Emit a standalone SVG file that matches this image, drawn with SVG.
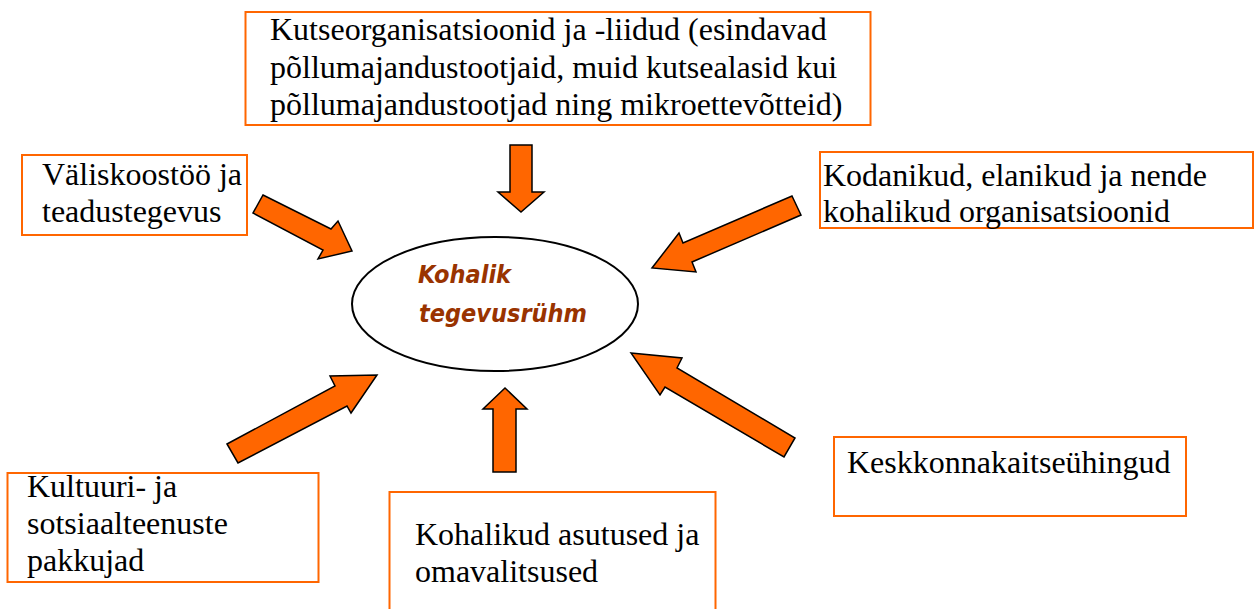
<svg xmlns="http://www.w3.org/2000/svg" width="1255" height="609" viewBox="0 0 1255 609">
<style>
.box{fill:#fff;stroke:#FF6600;stroke-width:2}
.t{font-family:"Liberation Serif","Times New Roman",serif;font-size:32px;fill:#000}
.arr{fill:#FF6600;stroke:#000;stroke-width:1.5;stroke-linejoin:miter}
.ct{font-family:"DejaVu Sans Condensed","DejaVu Sans",sans-serif;font-stretch:condensed;font-size:25px;font-weight:bold;font-style:italic;fill:#993300}
</style>
<rect width="1255" height="609" fill="#fff"/>
<g id="center">
<ellipse cx="495" cy="304" rx="143" ry="67" fill="#fff" stroke="#000" stroke-width="2"/>
<text class="ct" x="418" y="283">Kohalik</text>
<text class="ct" x="419" y="322">tegevusrühm</text>
</g>
<g id="kutse">
<rect class="box" x="245.5" y="12" width="625" height="113"/>
<text class="t" x="270" y="40">Kutseorganisatsioonid ja -liidud (esindavad</text>
<text class="t" x="270" y="78">põllumajandustootjaid, muid kutsealasid kui</text>
<text class="t" x="270" y="115">põllumajandustootjad ning mikroettevõtteid)</text>
</g>
<g id="valis">
<rect class="box" x="22" y="155" width="225" height="80"/>
<text class="t" x="42" y="185">Väliskoostöö ja</text>
<text class="t" x="42" y="222">teadustegevus</text>
</g>
<g id="kodanikud">
<rect class="box" x="820" y="152" width="433" height="76"/>
<text class="t" x="823" y="186">Kodanikud, elanikud ja nende</text>
<text class="t" x="823" y="222">kohalikud organisatsioonid</text>
</g>
<g id="kultuur">
<rect class="box" x="7.5" y="473" width="311" height="109"/>
<text class="t" x="27" y="497">Kultuuri- ja</text>
<text class="t" x="27" y="534">sotsiaalteenuste</text>
<text class="t" x="27" y="571">pakkujad</text>
</g>
<g id="kohalikud">
<rect class="box" x="389.5" y="492" width="326" height="130"/>
<text class="t" x="415" y="545">Kohalikud asutused ja</text>
<text class="t" x="415" y="582">omavalitsused</text>
</g>
<g id="keskkond">
<rect class="box" x="834" y="437" width="352" height="79"/>
<text class="t" x="847" y="473">Keskkonnakaitseühingud</text>
</g>
<g id="connectors">
<polygon class="arr" points="510,145 532,145 532,192 544,192 521,212 498,192 510,192"/>
<polygon class="arr" points="493,472 516,472 516,409 527,409 505,388 483,409 493,409"/>
<polygon class="arr" points="263,195 331,229 338,221 352,251 318,259 323,250 253,213"/>
<polygon class="arr" points="792,196 801,215 692,262 696,272 652,268 679,233 683,243"/>
<polygon class="arr" points="227,444 335,386 330,376 377,375 351,413 347,406 238,463"/>
<polygon class="arr" points="631,353 682,358 677,368 795,438 784,457 665,387 660,395"/>
</g>
</svg>
